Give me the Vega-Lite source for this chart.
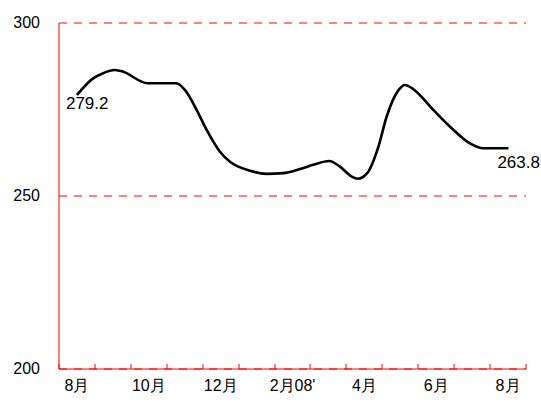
{
  "$schema": "https://vega.github.io/schema/vega-lite/v6.json",
  "width": 467,
  "height": 346,
  "autosize": {"type": "none"},
  "padding": {"left": 59, "top": 23, "right": 15, "bottom": 42},
  "background": "white",
  "config": {"view": {"stroke": null}, "font": "Liberation Sans"},
  "datasets": {
    "series": [
      {"t": 0.5, "v": 279.2}, {"t": 0.95, "v": 284.0}, {"t": 1.23, "v": 285.5},
      {"t": 1.54, "v": 286.4}, {"t": 1.73, "v": 286.1}, {"t": 2.47, "v": 282.6},
      {"t": 3.26, "v": 282.6}, {"t": 3.51, "v": 280.6}, {"t": 3.83, "v": 274.9},
      {"t": 4.11, "v": 269.1}, {"t": 4.48, "v": 262.8}, {"t": 4.76, "v": 259.9},
      {"t": 5.32, "v": 257.3}, {"t": 5.78, "v": 256.4}, {"t": 6.24, "v": 256.6},
      {"t": 6.71, "v": 257.8}, {"t": 7.08, "v": 259.0}, {"t": 7.52, "v": 260.1},
      {"t": 7.82, "v": 258.5}, {"t": 8.15, "v": 255.6}, {"t": 8.32, "v": 255.0},
      {"t": 8.58, "v": 256.6}, {"t": 8.89, "v": 264.2}, {"t": 9.12, "v": 272.9},
      {"t": 9.45, "v": 280.6}, {"t": 9.63, "v": 282.1}, {"t": 9.86, "v": 280.9},
      {"t": 10.42, "v": 274.9}, {"t": 10.93, "v": 269.6}, {"t": 11.44, "v": 265.2},
      {"t": 11.81, "v": 263.8}, {"t": 12.51, "v": 263.8}
    ],
    "labels": [
      {"t": 0.5, "v": 279.2, "label": "279.2", "pos": "start"},
      {"t": 12.51, "v": 263.8, "label": "263.8", "pos": "end"}
    ]
  },
  "encoding": {
    "x": {
      "field": "t", "type": "quantitative",
      "scale": {"domain": [0, 13], "nice": false, "zero": false},
      "axis": {
        "title": null, "values": [0,1,2,3,4,5,6,7,8,9,10,11,12,13],
        "grid": false, "domainColor": "#ff0000", "tickColor": "#ff0000", "translate": 0,
        "tickSize": -5, "labelOffset": 18, "labelPadding": 14,
        "labelFontSize": 16, "labelColor": "#000000", "labelFlush": false, "labelOverlap": false,
        "labelExpr": "datum.value == 0 ? '8月' : datum.value == 2 ? '10月' : datum.value == 4 ? '12月' : datum.value == 6 ? '2月08\\'' : datum.value == 8 ? '4月' : datum.value == 10 ? '6月' : datum.value == 12 ? '8月' : ''"
      }
    },
    "y": {
      "field": "v", "type": "quantitative",
      "scale": {"domain": [200, 300], "nice": false, "zero": false},
      "axis": {
        "title": null, "values": [200, 250, 300], "grid": true, "translate": 0,
        "gridColor": "#ff0000", "gridDash": [8, 7], "gridWidth": 1,
        "domainColor": "#ff0000", "ticks": false, "labelPadding": 19,
        "labelFontSize": 16, "labelColor": "#000000"
      }
    }
  },
  "layer": [
    {
      "data": {"name": "series"},
      "mark": {"type": "line", "color": "#000000", "strokeWidth": 2.6, "interpolate": "monotone"}
    },
    {
      "data": {"name": "labels"},
      "transform": [{"filter": "datum.pos == 'start'"}],
      "mark": {"type": "text", "align": "left", "baseline": "middle", "dx": -11, "dy": 9, "fontSize": 17, "color": "#000000"},
      "encoding": {"text": {"field": "label"}}
    },
    {
      "data": {"name": "labels"},
      "transform": [{"filter": "datum.pos == 'end'"}],
      "mark": {"type": "text", "align": "left", "baseline": "middle", "dx": -11, "dy": 15, "fontSize": 17, "color": "#000000"},
      "encoding": {"text": {"field": "label"}}
    }
  ]
}
